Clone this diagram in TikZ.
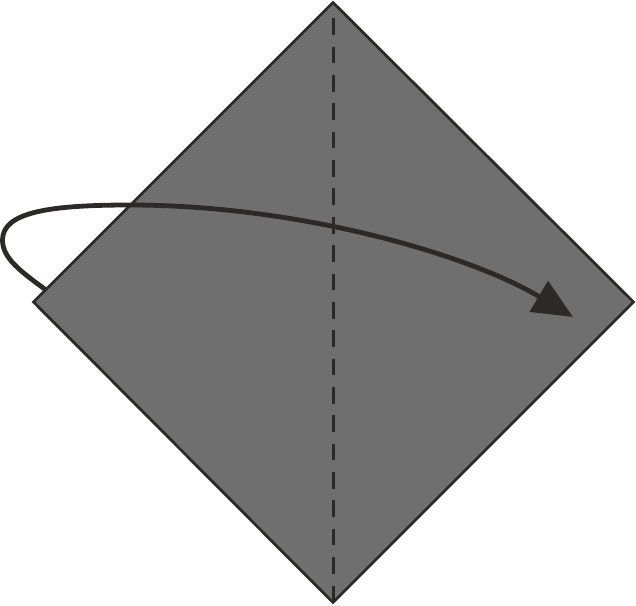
\documentclass[tikz,border=0pt]{standalone}
\usetikzlibrary{arrows.meta}
\definecolor{paper}{HTML}{6F6F6F}
\definecolor{ink}{HTML}{2B2A29}
\tikzset{
  edge/.style={draw=ink, line width=2.8pt, line join=miter},
  crease/.style={draw=ink, line width=2.4pt, dash pattern=on 16.7pt off 11.66pt},
  foldarrow/.style={draw=ink, line width=4.8pt, -{Triangle[length=40pt,width=35pt]}}
}
\begin{document}
\begin{tikzpicture}[x=1pt,y=-1pt]
\useasboundingbox (0,0) rectangle (636,605);
\coordinate (T) at (333,2.5);
\coordinate (R) at (633.5,302);
\coordinate (B) at (333,602.5);
\coordinate (L) at (33.5,302);
\fill[paper] (T) -- (R) -- (B) -- (L) -- cycle;
\draw[crease] (333.3,18.3) -- (333.3,602);
\draw[edge] (T) -- (R) -- (B) -- (L) -- cycle;
\coordinate (S) at (46,290);
\coordinate (E) at (573,317);
\draw[foldarrow] (S) .. controls (20,271) and (2.5,258) .. (2.5,240)
  .. controls (2.5,212) and (50,205) .. (130,205)
  .. controls (300,205) and (470,255) .. (E);
\end{tikzpicture}
\end{document}
